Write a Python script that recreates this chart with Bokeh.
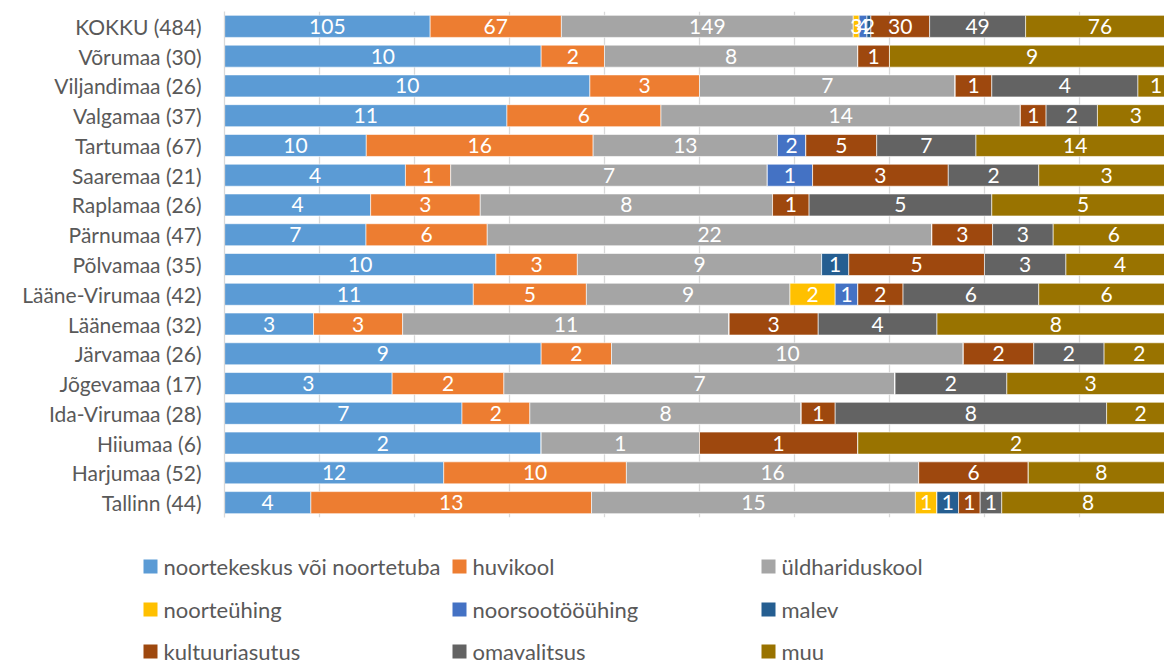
from bokeh.plotting import figure
from bokeh.models import ColumnDataSource, FactorRange, Range1d, FixedTicker
from bokeh.embed import file_html
from bokeh.resources import INLINE
from bokeh.core.properties import value

FONT = "Lato"

regions = ["KOKKU (484)", "Võrumaa (30)", "Viljandimaa (26)", "Valgamaa (37)",
           "Tartumaa (67)", "Saaremaa (21)", "Raplamaa (26)", "Pärnumaa (47)",
           "Põlvamaa (35)", "Lääne-Virumaa (42)", "Läänemaa (32)", "Järvamaa (26)",
           "Jõgevamaa (17)", "Ida-Virumaa (28)", "Hiiumaa (6)", "Harjumaa (52)",
           "Tallinn (44)"]

series_names = ["noortekeskus või noortetuba", "huvikool", "üldhariduskool",
                "noorteühing", "noorsootööühing", "malev",
                "kultuuriasutus", "omavalitsus", "muu"]

noortekeskus = [105, 10, 10, 11, 10, 4, 4, 7, 10, 11, 3, 9, 3, 7, 2, 12, 4]
huvikool = [67, 2, 3, 6, 16, 1, 3, 6, 3, 5, 3, 2, 2, 2, 0, 10, 13]
yldhariduskool = [149, 8, 7, 14, 13, 7, 8, 22, 9, 9, 11, 10, 7, 8, 1, 16, 15]
noorteyhing = [3, 0, 0, 0, 0, 0, 0, 0, 0, 2, 0, 0, 0, 0, 0, 0, 1]
noorsootooyhing = [4, 0, 0, 0, 2, 1, 0, 0, 0, 1, 0, 0, 0, 0, 0, 0, 0]
malev = [2, 0, 0, 0, 0, 0, 0, 0, 1, 0, 0, 0, 0, 0, 0, 0, 1]
kultuuriasutus = [30, 1, 1, 1, 5, 3, 1, 3, 5, 2, 3, 2, 0, 1, 1, 6, 1]
omavalitsus = [49, 0, 4, 2, 7, 2, 5, 3, 3, 6, 4, 2, 2, 8, 0, 0, 1]
muu = [76, 9, 1, 3, 14, 3, 5, 6, 4, 6, 8, 2, 3, 2, 2, 8, 8]

series = [noortekeskus, huvikool, yldhariduskool, noorteyhing, noorsootooyhing,
          malev, kultuuriasutus, omavalitsus, muu]

colors = ["#5B9BD5", "#ED7D31", "#A5A5A5", "#FFC000", "#4472C4", "#255E91",
          "#9E480E", "#636363", "#997300"]

# 100% stacked fractions
totals = [sum(s[i] for s in series) for i in range(len(regions))]
keys = ["s%d" % k for k in range(len(series))]
data = {"region": regions}
for k, s in zip(keys, series):
    data[k] = [v / t for v, t in zip(s, totals)]
source = ColumnDataSource(data)

p = figure(width=1164, height=523,
           y_range=FactorRange(factors=regions[::-1]),
           x_range=Range1d(0, 0.9895),
           output_backend="svg", toolbar_location=None,
           min_border_left=224, min_border_right=0,
           min_border_top=11, min_border_bottom=6)
p.outline_line_color = None
p.background_fill_color = "white"
p.border_fill_color = "white"
p.xaxis.visible = False
p.ygrid.grid_line_color = None
p.xgrid.ticker = FixedTicker(ticks=[0.1 * i for i in range(1, 10)])
p.xgrid.grid_line_color = "#D9D9D9"
p.xgrid.grid_line_width = 1.3

p.hbar_stack(keys, y="region", height=0.74, color=colors, source=source,
             line_color="white", line_width=0.6)

# data labels
lx, ly, lt = [], [], []
for i, r in enumerate(regions):
    cum = 0.0
    for s in series:
        v = s[i]
        f = v / totals[i]
        if v > 0:
            lx.append(cum + f / 2)
            ly.append(r)
            lt.append(str(v))
        cum += f
p.text(x=lx, y=ly, text=lt, text_font=value(FONT), text_font_size="21px",
       text_color="white", text_align="center", text_baseline="middle")

p.yaxis.major_label_text_font = FONT
p.yaxis.major_label_text_font_size = "21px"
p.yaxis.major_label_text_color = "#595959"
p.yaxis.major_tick_line_color = None
p.yaxis.minor_tick_line_color = None
p.yaxis.axis_line_color = "#D9D9D9"
p.yaxis.axis_line_width = 1.3
p.yaxis.major_label_standoff = 17

# legend as its own panel (page-pixel coordinates)
leg = figure(width=1164, height=141, x_range=Range1d(0, 1164), y_range=Range1d(664, 523),
             output_backend="svg", toolbar_location=None,
             min_border_left=0, min_border_right=0, min_border_top=0, min_border_bottom=0)
leg.axis.visible = False
leg.grid.grid_line_color = None
leg.outline_line_color = None
leg.background_fill_color = "white"
leg.border_fill_color = "white"
col_x = [150, 459, 768]
row_y = [566, 609, 651]
mx = [col_x[k % 3] for k in range(len(series_names))]
my = [row_y[k // 3] for k in range(len(series_names))]
leg.scatter(x=mx, y=my, marker="square", size=14, color=colors, line_color=None)
leg.text(x=[x + 13 for x in mx], y=my, text=series_names, text_font=value(FONT),
         text_font_size="22px", text_color="#595959", text_baseline="middle")

open("out.html", "w").write(file_html([p, leg], INLINE))
